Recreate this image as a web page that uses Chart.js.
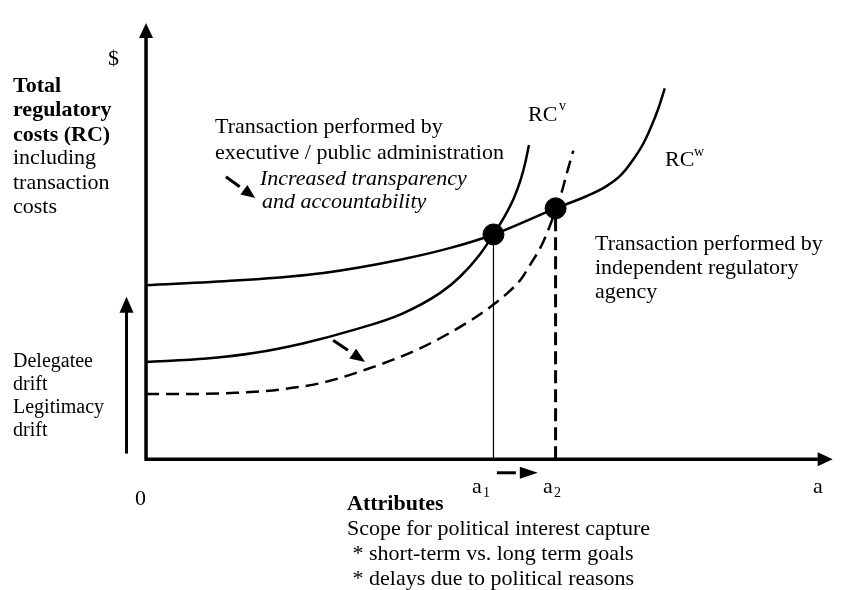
<!DOCTYPE html>
<html>
<head>
<meta charset="utf-8">
<script src="https://cdn.jsdelivr.net/npm/chart.js@4.4.0/dist/chart.umd.min.js"></script>
<style>
body{margin:0;background:#fff}
</style>
</head>
<body>
<canvas id="canvas" width="844" height="590"></canvas>
<script>

// curves, as [a, $] pairs (a: 0..100, $: 0..~115)
var rcW = [[0,45.3],[13.1,46.5],[26,48.5],[37.4,52],[44.6,55],[50.9,58.5],[60,65.3],
           [64.6,68.5],[67.4,71],[69.6,74],[71.3,77.8],[72.9,82.3],[74,86.5],[75,91],[76,96.5]];
var rcV = [[0,25.3],[8.9,26.2],[16,27.7],[23.1,30.2],[30.3,33.6],[37.4,37.8],[43.1,43.3],
           [46,47.5],[48.9,53.3],[50.9,58.5],[52.4,62.8],[53.9,68],[54.9,72.8],[55.6,77.5],[56.1,81.8]];
var rcVShifted = [[0,17],[6,17],[13.1,17.3],[20.3,18.3],[26,20],[32.1,23.3],[40.3,29],
                  [47.9,36.5],[50.7,40],[53.1,43.5],[54.9,46.8],[56.4,51],[57.9,55.5],
                  [59,60],[60,64.8],[60.9,69.5],[61.7,74.8],[62.6,80.3]];
var equilibria = [[50.9,58.5],[60,65.3]];   // a1, a2
var a1 = 50.9, a2 = 60;

function pts(arr){ return arr.map(function(p){ return {x:p[0], y:p[1]}; }); }

var serif = '"Liberation Serif", "Times New Roman", serif';

// annotation texts, canvas pixels
var texts = [
  {t:'Total', x:13, y:92, f:'bold 22px '},
  {t:'regulatory', x:13, y:116, f:'bold 22px '},
  {t:'costs (RC)', x:13, y:141, f:'bold 22px '},
  {t:'including', x:13, y:164, f:'22px '},
  {t:'transaction', x:13, y:189, f:'22px '},
  {t:'costs', x:13, y:213, f:'22px '},
  {t:'Delegatee', x:13, y:367, f:'20px '},
  {t:'drift', x:13, y:390, f:'20px '},
  {t:'Legitimacy', x:13, y:413, f:'20px '},
  {t:'drift', x:13, y:436, f:'20px '},
  {t:'$', x:108, y:65, f:'22px '},
  {t:'Transaction performed by', x:215, y:133, f:'22px '},
  {t:'executive / public administration', x:215, y:159, f:'22px '},
  {t:'Increased transparency', x:260, y:185, f:'italic 22px '},
  {t:'and accountability', x:262, y:208, f:'italic 22px '},
  {t:'RC', x:528, y:121, f:'22px '},
  {t:'v', x:559, y:110, f:'14px '},
  {t:'RC', x:665, y:166, f:'22px '},
  {t:'w', x:694, y:156, f:'14px '},
  {t:'Transaction performed by', x:595, y:250, f:'22px '},
  {t:'independent regulatory', x:595, y:274, f:'22px '},
  {t:'agency', x:595, y:298, f:'22px '},
  {t:'0', x:135, y:505, f:'22px '},
  {t:'a', x:472, y:493, f:'22px '},
  {t:'1', x:483, y:497, f:'14px '},
  {t:'a', x:543, y:493, f:'22px '},
  {t:'2', x:554, y:497, f:'14px '},
  {t:'a', x:813, y:493, f:'22px '},
  {t:'Attributes', x:347, y:510, f:'bold 22px '},
  {t:'Scope for political interest capture', x:347, y:535, f:'22px '},
  {t:' * short-term vs. long term goals', x:347, y:560, f:'22px '},
  {t:' * delays due to political reasons', x:347, y:585, f:'22px '}
];

// small arrows, in data units: [fromX, fromY, tipX, tipY, shaft, head]
var shiftArrows = [
  [11.7,73.5,16,68,17,14],
  [27.4,31,32.1,25.3,18,15],
  [51.4,-3.5,57.4,-3.5,19,18]
];

function head(ctx, tx, ty, ux, uy, len, half){
  ctx.beginPath();
  ctx.moveTo(tx, ty);
  ctx.lineTo(tx - ux*len - uy*half, ty - uy*len + ux*half);
  ctx.lineTo(tx - ux*len + uy*half, ty - uy*len - ux*half);
  ctx.closePath();
  ctx.fill();
}

var decor = {
  id: 'decor',
  afterDatasetsDraw: function(chart){
    var ctx = chart.ctx, xs = chart.scales.x, ys = chart.scales.y;
    var ox = xs.getPixelForValue(0), oy = ys.getPixelForValue(0);
    ctx.save();
    ctx.fillStyle = '#000';
    ctx.strokeStyle = '#000';
    ctx.lineCap = 'butt';

    // axes
    ctx.lineWidth = 3.5;
    var yTop = ys.getPixelForValue(113.5), xEnd = xs.getPixelForValue(100.6);
    ctx.beginPath();
    ctx.moveTo(ox, oy + 1.5); ctx.lineTo(ox, yTop + 12);
    ctx.moveTo(ox - 1.5, oy); ctx.lineTo(xEnd - 12, oy);
    ctx.stroke();
    head(ctx, ox, yTop, 0, -1, 15, 7);
    head(ctx, xEnd, oy, 1, 0, 15, 7);

    // drift arrow on the left
    var lx = xs.getPixelForValue(-2.86);
    var lb = ys.getPixelForValue(1.5), lt = ys.getPixelForValue(42.3);
    ctx.lineWidth = 3;
    ctx.beginPath(); ctx.moveTo(lx, lb); ctx.lineTo(lx, lt + 14); ctx.stroke();
    head(ctx, lx, lt, 0, -1, 16, 7);

    // shift arrows
    shiftArrows.forEach(function(a){
      var x0 = xs.getPixelForValue(a[0]), y0 = ys.getPixelForValue(a[1]);
      var x1 = xs.getPixelForValue(a[2]), y1 = ys.getPixelForValue(a[3]);
      var d = Math.hypot(x1 - x0, y1 - y0), ux = (x1 - x0)/d, uy = (y1 - y0)/d;
      ctx.lineWidth = 3;
      ctx.beginPath();
      ctx.moveTo(x0, y0);
      ctx.lineTo(x0 + ux*a[4], y0 + uy*a[4]);
      ctx.stroke();
      head(ctx, x1, y1, ux, uy, a[5], 6);
    });

    // texts
    ctx.textBaseline = 'alphabetic';
    ctx.textAlign = 'left';
    texts.forEach(function(t){
      ctx.font = t.f + serif;
      ctx.fillText(t.t, t.x, t.y);
    });
    ctx.restore();
  }
};

var config = {
  type: 'scatter',
  data: {
    datasets: [
      {
        data: pts(equilibria),
        pointRadius: 10.5,
        pointHoverRadius: 10.5,
        backgroundColor: '#000',
        borderColor: '#000',
        showLine: false
      },
      {
        data: pts(rcW),
        showLine: true, pointRadius: 0, borderColor: '#000', borderWidth: 2.5,
        cubicInterpolationMode: 'monotone'
      },
      {
        data: pts(rcV),
        showLine: true, pointRadius: 0, borderColor: '#000', borderWidth: 2.5,
        cubicInterpolationMode: 'monotone'
      },
      {
        data: pts(rcVShifted),
        showLine: true, pointRadius: 0, borderColor: '#000', borderWidth: 2.5,
        borderDash: [13, 7],
        cubicInterpolationMode: 'monotone'
      },
      {
        data: [{x:a1, y:0}, {x:a1, y:equilibria[0][1]}],
        showLine: true, pointRadius: 0, borderColor: '#000', borderWidth: 1.2
      },
      {
        data: [{x:a2, y:0}, {x:a2, y:equilibria[1][1]}],
        showLine: true, pointRadius: 0, borderColor: '#000', borderWidth: 3,
        borderDash: [13, 6]
      }
    ]
  },
  options: {
    responsive: false,
    animation: false,
    layout: {padding: 0},
    plugins: {legend: {display: false}, tooltip: {enabled: false}},
    scales: {
      x: {type: 'linear', min: -19.71, max: 100.57, display: false},
      y: {type: 'linear', min: -31, max: 116.5, display: false}
    }
  },
  plugins: [decor]
};

window.onload = function(){
  var ctx = document.getElementById('canvas').getContext('2d');
  window.myChart = new Chart(ctx, config);
};
</script>
</body>
</html>
